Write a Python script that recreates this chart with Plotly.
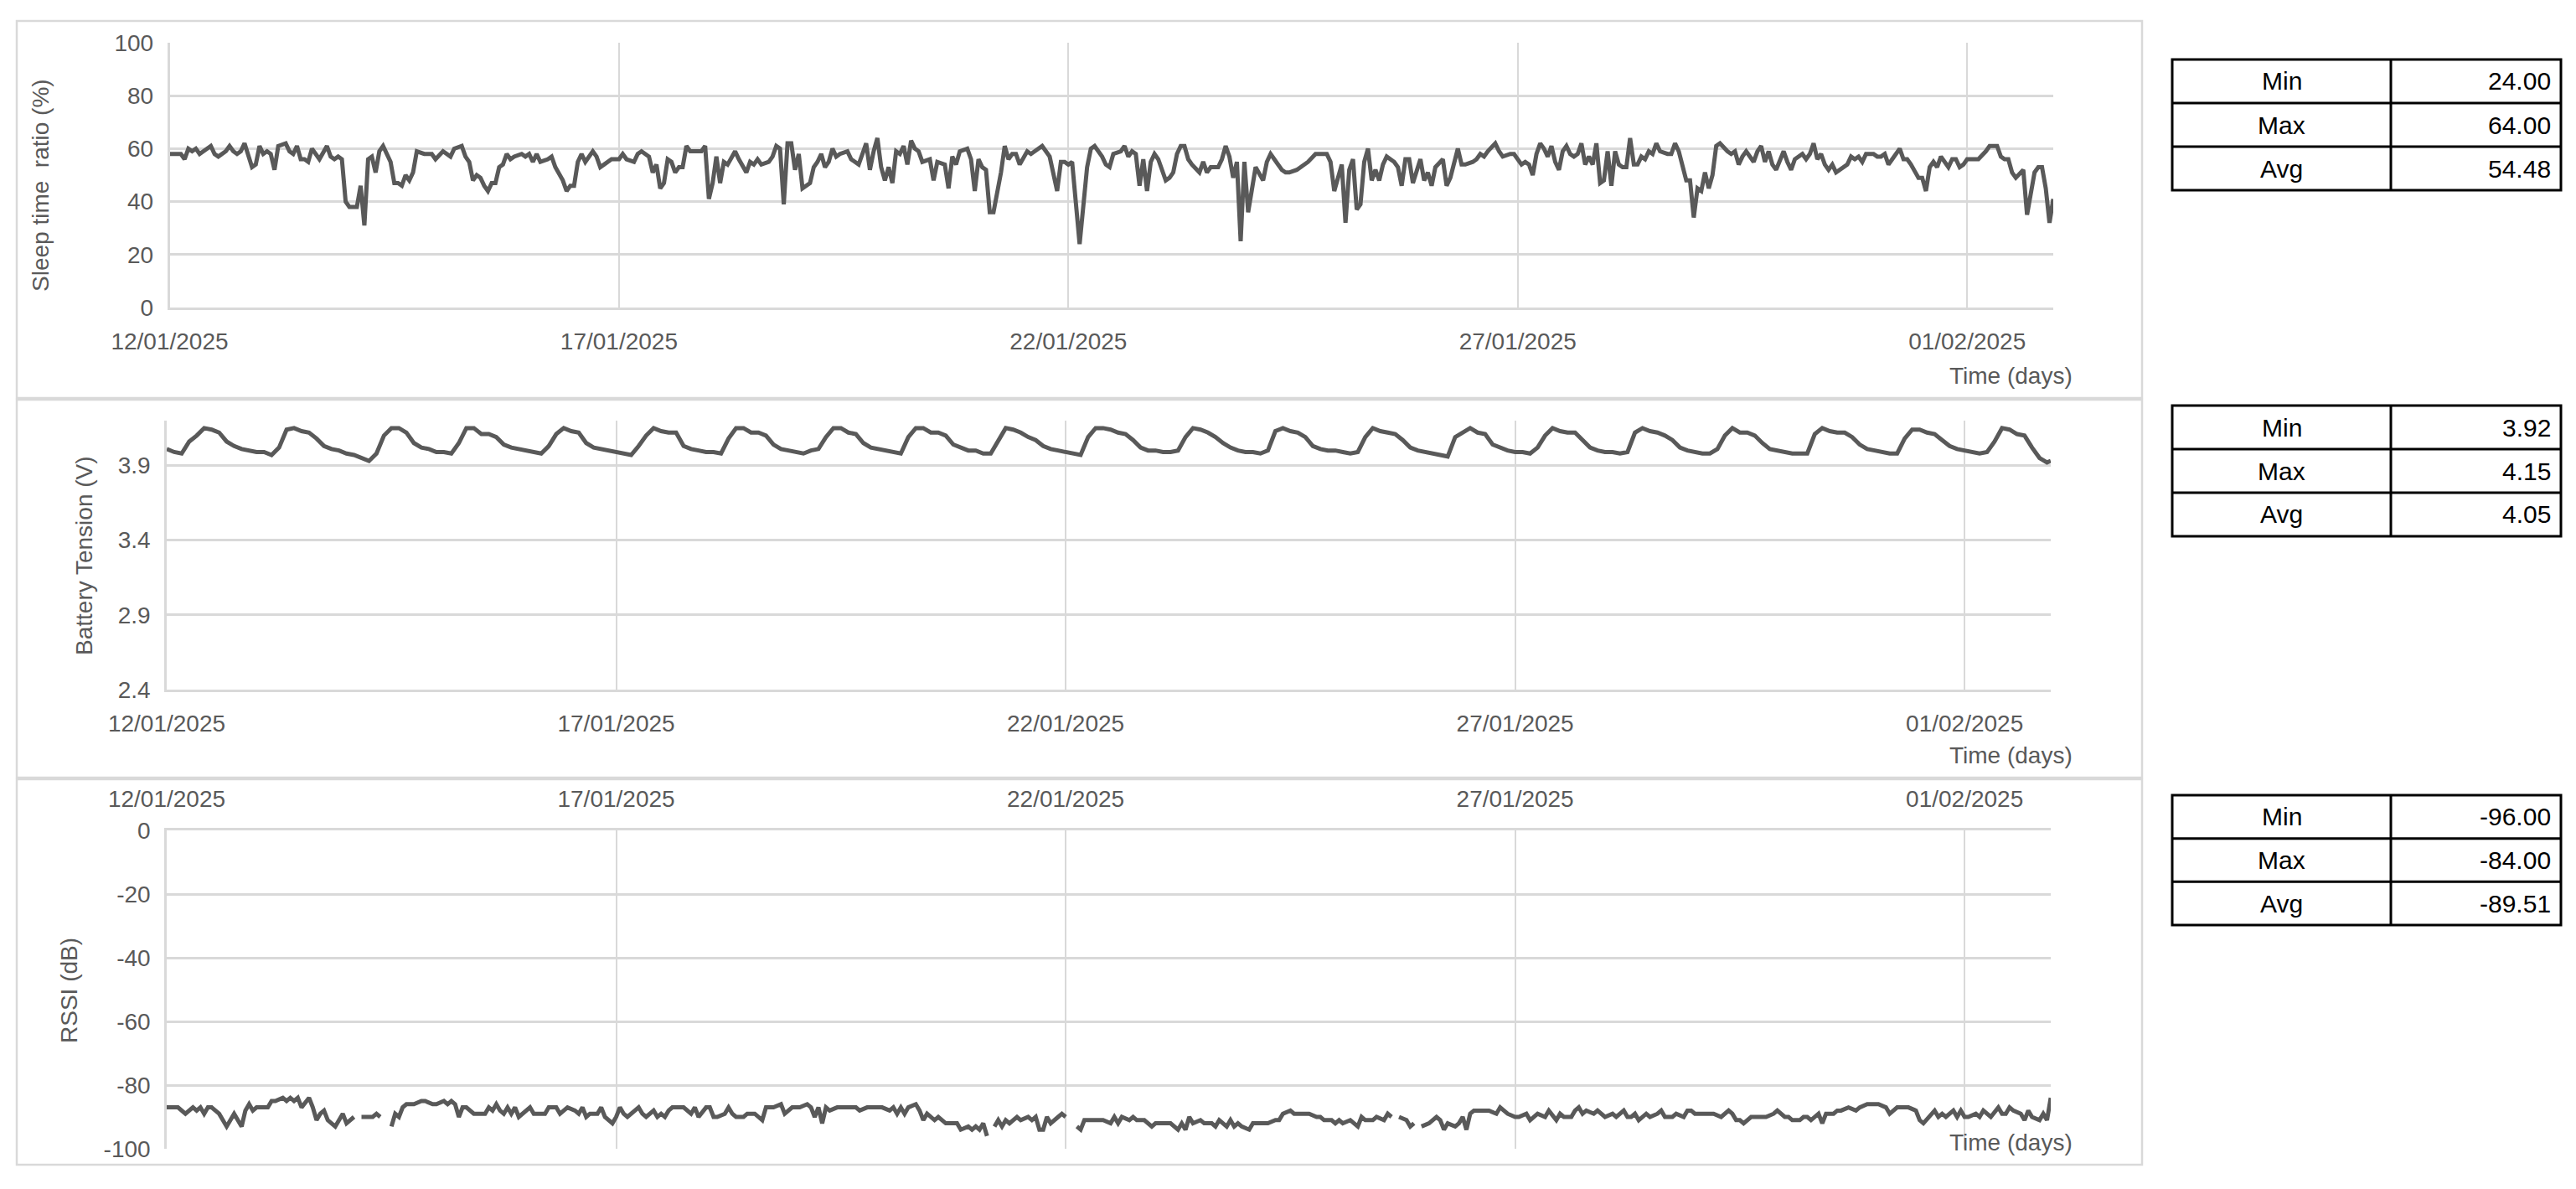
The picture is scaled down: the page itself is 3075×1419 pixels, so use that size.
import plotly.graph_objects as go
from datetime import datetime, timedelta

W, H = 3075, 1419

# ---------------- data ----------------
start_date = "2025-01-12 00:00"
end_date = "2025-02-01 23:00"
tick_start = "2025-01-12"
tick_step_days = 5
date_format = "%d/%m/%Y"

# (hours since 12/01/2025 00:00, sleep time ratio %)
sleep_readings = [
    (0, 58), (3, 58), (4, 56), (5, 60), (6, 59), (7, 60), (8, 58), (10, 60), (11, 61), (12, 58),
    (13, 57), (15, 59), (16, 61), (17, 59), (18, 58), (19, 59), (20, 62), (22, 53), (23, 54), (24, 61),
    (25, 58), (26, 59), (27, 58), (28, 52), (29, 61), (31, 62), (32, 59), (33, 58), (34, 61), (35, 56),
    (36, 56), (37, 55), (38, 60), (40, 56), (42, 61), (43, 57), (44, 56), (45, 57), (46, 56), (47, 40),
    (48, 38), (50, 38), (51, 46), (52, 31), (53, 56), (54, 57), (55, 51), (56, 59), (57, 61), (59, 55),
    (60, 47), (61, 47), (62, 46), (63, 50), (64, 48), (65, 51), (66, 59), (68, 58), (69, 58), (70, 58),
    (71, 56), (73, 59), (75, 57), (76, 60), (78, 61), (79, 57), (80, 55), (81, 48), (82, 50), (83, 49),
    (84, 46), (85, 44), (86, 47), (87, 47), (88, 53), (89, 54), (90, 58), (91, 56), (92, 57), (94, 58),
    (95, 57), (96, 58), (97, 55), (98, 58), (99, 55), (101, 56), (102, 57), (103, 53), (105, 48), (106, 44),
    (107, 46), (108, 46), (109, 55), (110, 58), (111, 55), (113, 59), (114, 57), (115, 53), (116, 54), (118, 56),
    (119, 56), (120, 56), (121, 58), (122, 56), (124, 55), (125, 58), (126, 59), (128, 57), (129, 51), (130, 54),
    (131, 45), (132, 47), (133, 56), (134, 55), (135, 51), (136, 53), (137, 53), (138, 61), (139, 59), (140, 59),
    (142, 59), (143, 61), (144, 41), (145, 47), (146, 57), (147, 47), (148, 55), (149, 54), (151, 59), (152, 56),
    (154, 51), (155, 55), (156, 54), (157, 56), (158, 54), (160, 55), (161, 57), (162, 61), (163, 60), (164, 39),
    (165, 62), (166, 62), (167, 52), (168, 58), (169, 45), (171, 47), (172, 53), (173, 55), (174, 58), (175, 53),
    (176, 55), (177, 60), (178, 57), (179, 58), (181, 59), (182, 56), (184, 54), (185, 58), (186, 62), (187, 52),
    (188, 59), (189, 64), (190, 53), (191, 48), (192, 53), (193, 47), (194, 59), (195, 58), (196, 61), (197, 54),
    (198, 63), (199, 60), (200, 59), (201, 55), (203, 56), (204, 48), (205, 55), (207, 54), (208, 45), (209, 57),
    (210, 54), (211, 59), (213, 60), (214, 56), (215, 44), (216, 56), (217, 53), (218, 52), (219, 36), (220, 36),
    (222, 51), (223, 61), (224, 56), (225, 58), (226, 58), (227, 54), (229, 59), (230, 58), (231, 59), (233, 61),
    (234, 59), (235, 57), (237, 44), (238, 55), (239, 55), (240, 54), (241, 55), (243, 24), (245, 53), (246, 60),
    (247, 61), (249, 57), (250, 54), (251, 53), (252, 58), (254, 59), (255, 61), (256, 57), (257, 59), (258, 58),
    (259, 46), (260, 56), (261, 44), (262, 55), (263, 58), (264, 56), (266, 48), (267, 49), (268, 51), (269, 58),
    (270, 61), (271, 61), (272, 56), (273, 54), (275, 51), (276, 55), (277, 51), (278, 53), (280, 53), (281, 56),
    (282, 61), (283, 57), (284, 49), (285, 55), (286, 25), (287, 55), (288, 36), (289, 45), (290, 53), (292, 48),
    (293, 55), (294, 58), (295, 56), (297, 52), (298, 51), (299, 51), (301, 52), (303, 54), (304, 55), (306, 58),
    (307, 58), (309, 58), (310, 55), (311, 44), (313, 54), (314, 32), (315, 52), (316, 56), (317, 37), (318, 39),
    (319, 55), (320, 60), (321, 48), (322, 52), (323, 48), (324, 54), (325, 57), (327, 55), (328, 53), (329, 46),
    (330, 56), (331, 56), (332, 47), (333, 52), (334, 56), (335, 48), (336, 51), (337, 46), (338, 53), (340, 56),
    (341, 46), (342, 49), (343, 54), (344, 60), (345, 54), (346, 54), (348, 55), (349, 56), (350, 58), (351, 57),
    (352, 59), (354, 62), (355, 59), (356, 57), (358, 58), (359, 58), (361, 54), (362, 55), (363, 54), (364, 50),
    (365, 58), (366, 62), (367, 60), (368, 57), (369, 61), (370, 55), (371, 52), (372, 59), (373, 61), (374, 58),
    (375, 57), (376, 58), (377, 62), (378, 54), (379, 57), (380, 54), (381, 62), (382, 47), (383, 48), (384, 59),
    (385, 46), (386, 59), (387, 54), (388, 53), (389, 53), (390, 64), (391, 54), (392, 54), (393, 57), (394, 56),
    (395, 59), (396, 58), (397, 62), (398, 59), (400, 58), (401, 58), (402, 62), (403, 59), (405, 48), (406, 48),
    (407, 34), (408, 45), (409, 44), (410, 51), (411, 45), (412, 50), (413, 61), (414, 62), (416, 59), (417, 58),
    (418, 59), (419, 54), (420, 57), (421, 59), (423, 55), (424, 59), (425, 61), (426, 55), (427, 59), (428, 54),
    (429, 52), (431, 59), (432, 55), (433, 52), (434, 56), (436, 58), (437, 56), (438, 58), (439, 62), (440, 56),
    (441, 58), (442, 54), (443, 52), (444, 54), (445, 51), (447, 53), (448, 54), (449, 57), (450, 56), (451, 57),
    (452, 55), (453, 58), (455, 58), (456, 57), (457, 57), (458, 58), (459, 54), (460, 56), (462, 60), (463, 56),
    (464, 56), (465, 54), (467, 49), (468, 49), (469, 44), (470, 53), (471, 55), (472, 53), (473, 57), (475, 53),
    (476, 56), (477, 56), (478, 53), (479, 54), (480, 56), (482, 56), (483, 56), (485, 59), (486, 61), (488, 61),
    (489, 57), (490, 56), (491, 56), (492, 51), (493, 49), (495, 52), (496, 35), (497, 43), (498, 51), (499, 53),
    (500, 53), (501, 45), (502, 32), (503, 41),
]

# battery tension (V), read every 2 hours, last reading at hour 503
battery_hours = list(range(0, 503, 2)) + [503]
battery_values = [
    4.01, 3.99, 3.98, 4.06, 4.10, 4.15, 4.14, 4.12, 4.06, 4.03,
    4.01, 4.00, 3.99, 3.99, 3.97, 4.02, 4.14, 4.15, 4.13, 4.12,
    4.08, 4.03, 4.01, 4.00, 3.98, 3.97, 3.95, 3.93, 3.98, 4.10,
    4.15, 4.15, 4.12, 4.05, 4.02, 4.01, 3.99, 3.99, 3.98, 4.05,
    4.15, 4.15, 4.11, 4.11, 4.09, 4.04, 4.02, 4.01, 4.00, 3.99,
    3.98, 4.03, 4.11, 4.15, 4.13, 4.12, 4.05, 4.02, 4.01, 4.00,
    3.99, 3.98, 3.97, 4.03, 4.10, 4.15, 4.13, 4.12, 4.12, 4.03,
    4.01, 4.00, 3.99, 3.99, 3.98, 4.08, 4.15, 4.15, 4.12, 4.12,
    4.10, 4.04, 4.01, 4.00, 3.99, 3.98, 4.00, 4.01, 4.09, 4.15,
    4.15, 4.12, 4.11, 4.05, 4.02, 4.01, 4.00, 3.99, 3.98, 4.09,
    4.15, 4.15, 4.12, 4.12, 4.10, 4.04, 4.02, 4.00, 4.00, 3.98,
    3.98, 4.07, 4.15, 4.14, 4.12, 4.09, 4.07, 4.03, 4.01, 4.00,
    3.99, 3.98, 3.97, 4.09, 4.15, 4.15,
    4.14, 4.12, 4.11, 4.07, 4.02, 4.00, 4.00, 3.99, 3.99, 4.00,
    4.09, 4.15, 4.14, 4.12, 4.09, 4.05, 4.02, 4.00, 3.99, 3.99,
    3.98, 4.00, 4.13, 4.15, 4.13, 4.12, 4.09, 4.03, 4.01, 4.00,
    4.00, 3.99, 3.98, 3.99, 4.09, 4.15, 4.13, 4.12, 4.11, 4.07,
    4.02, 4.00, 3.99, 3.98, 3.97, 3.96, 4.09, 4.12, 4.15, 4.12,
    4.11, 4.04, 4.02, 4.00, 3.99, 3.99, 3.98, 4.02, 4.10, 4.15,
    4.13, 4.12, 4.12, 4.07, 4.02, 4.00, 3.99, 3.99, 3.98, 3.99,
    4.12, 4.15, 4.13, 4.12, 4.10, 4.07, 4.02, 4.00, 3.99, 3.98,
    3.98, 4.01, 4.10, 4.15, 4.12, 4.12, 4.10, 4.05, 4.01, 4.00,
    3.99, 3.98, 3.98, 3.98, 4.11, 4.15, 4.13, 4.12, 4.12, 4.09,
    4.04, 4.01, 4.00, 3.99, 3.98, 3.98, 4.08, 4.14, 4.14, 4.12,
    4.11, 4.07, 4.03, 4.01, 4.00, 3.99, 3.98, 3.99, 4.06, 4.15,
    4.14, 4.11, 4.10, 4.02, 3.95, 3.92, 3.93,
]

# (hours since 12/01/2025 00:00, RSSI dB); None = missing reading (gap in line)
rssi_readings = [
    (0, -87), (1, -87), (2, -87), (3, -87), (5, -89), (6, -88), (7, -87), (8, -88), (9, -87), (10, -89),
    (11, -87), (12, -87), (14, -89), (16, -93), (17, -91), (18, -89), (20, -93), (21, -88), (22, -86), (23, -88),
    (24, -87), (26, -87), (27, -87), (28, -85), (29, -85), (31, -84), (32, -85), (33, -84), (34, -85), (35, -84),
    (36, -87), (38, -84), (39, -87), (40, -91), (41, -89), (42, -88), (43, -91), (44, -92), (45, -93), (47, -89),
    (48, -92), (50, -90), (51, None), (52, -90), (53, -90), (55, -90), (56, -89), (57, -90), (58, None), (60, -93),
    (61, -89), (62, -90), (63, -87), (64, -86), (66, -86), (68, -85), (69, -85), (71, -86), (72, -86), (74, -85),
    (75, -86), (76, -85), (77, -86), (78, -90), (79, -87), (80, -87), (82, -89), (84, -89), (85, -89), (86, -87),
    (87, -88), (88, -86), (89, -88), (90, -89), (91, -87), (92, -89), (93, -87), (94, -90), (96, -88), (97, -87),
    (98, -89), (100, -89), (101, -89), (102, -87), (104, -87), (105, -89), (107, -87), (109, -88), (110, -89), (111, -87),
    (112, -90), (113, -89), (115, -89), (116, -87), (117, -90), (119, -92), (120, -90), (121, -87), (122, -89), (123, -90),
    (126, -87), (127, -89), (128, -90), (130, -88), (131, -90), (132, -89), (133, -90), (134, -88), (135, -87), (137, -87),
    (138, -87), (140, -89), (141, -87), (142, -90), (144, -87), (145, -87), (146, -90), (147, -90), (149, -89), (150, -87),
    (151, -89), (152, -90), (154, -90), (155, -89), (157, -89), (159, -91), (160, -87), (161, -87), (162, -87), (164, -86),
    (165, -89), (167, -87), (168, -87), (169, -87), (171, -86), (172, -87), (173, -90), (174, -87), (175, -92), (176, -87),
    (177, -88), (179, -87), (180, -87), (181, -87), (184, -87), (185, -88), (187, -87), (189, -87), (191, -87), (193, -88),
    (194, -87), (195, -89), (196, -87), (197, -89), (198, -87), (200, -86), (201, -88), (202, -91), (203, -89), (205, -91),
    (206, -90), (208, -92), (209, -92), (211, -92), (212, -94), (214, -93), (215, -94), (216, -93), (217, -94), (218, -92),
    (219, -96), (220, None), (221, -93), (222, -91), (223, -93), (224, -91), (225, -92), (227, -90), (228, -91), (230, -90),
    (231, -91), (232, -90), (233, -94), (234, -94), (235, -90), (236, -92), (238, -90), (239, -89), (240, -90), (241, None),
    (243, -93), (244, -94), (245, -91), (247, -91), (249, -91), (250, -91), (252, -92), (253, -90), (254, -92), (255, -90),
    (257, -91), (258, -90), (259, -91), (260, -91), (261, -91), (263, -93), (264, -92), (266, -92), (268, -92), (270, -94),
    (271, -92), (272, -94), (273, -90), (274, -92), (276, -91), (277, -92), (279, -92), (280, -93), (281, -91), (283, -93),
    (284, -91), (285, -93), (286, -92), (287, -93), (289, -94), (290, -92), (293, -92), (294, -92), (296, -91), (297, -91),
    (298, -89), (300, -88), (301, -89), (303, -89), (305, -89), (307, -90), (308, -90), (309, -91), (311, -91), (312, -92),
    (313, -91), (314, -92), (316, -91), (317, -92), (318, -93), (319, -90), (320, -91), (322, -91), (323, -90), (325, -91),
    (326, -89), (327, -90), (328, None), (329, -90), (331, -91), (332, -93), (333, -92), (334, None), (335, -93), (337, -92),
    (339, -90), (340, -91), (341, -94), (342, -92), (344, -93), (345, -92), (346, -90), (347, -94), (348, -89), (349, -88),
    (351, -88), (353, -88), (355, -89), (356, -87), (358, -89), (360, -90), (361, -90), (363, -89), (364, -91), (366, -89),
    (368, -90), (369, -88), (371, -91), (372, -89), (373, -90), (375, -90), (376, -88), (377, -87), (378, -89), (379, -88),
    (381, -89), (382, -88), (384, -90), (386, -89), (387, -90), (389, -88), (390, -90), (391, -90), (392, -89), (393, -91),
    (395, -89), (396, -90), (398, -89), (399, -88), (400, -90), (402, -90), (403, -89), (405, -90), (406, -88), (407, -88),
    (408, -89), (410, -89), (412, -89), (413, -89), (415, -90), (417, -88), (418, -89), (419, -91), (420, -91), (421, -92),
    (423, -90), (424, -90), (425, -90), (427, -90), (429, -89), (430, -88), (432, -90), (433, -90), (434, -91), (436, -91),
    (437, -90), (438, -90), (439, -91), (441, -89), (442, -92), (443, -89), (445, -89), (446, -88), (447, -88), (449, -87),
    (451, -88), (452, -87), (454, -86), (456, -86), (457, -86), (459, -87), (460, -89), (461, -88), (462, -87), (464, -87),
    (465, -87), (467, -88), (468, -91), (469, -92), (471, -89), (472, -88), (473, -90), (474, -89), (475, -90), (477, -88),
    (478, -90), (479, -88), (480, -90), (481, -90), (483, -89), (484, -90), (485, -88), (486, -89), (487, -90), (489, -87),
    (490, -89), (491, -89), (492, -87), (493, -88), (495, -89), (496, -91), (497, -88), (498, -90), (500, -91), (501, -89),
    (502, -91), (503, -84),
]

sleep_ticks = [0, 20, 40, 60, 80, 100]
battery_ticks = [2.4, 2.9, 3.4, 3.9]
rssi_ticks = [-100, -80, -60, -40, -20, 0]

y_titles = ["Sleep time\u00a0 ratio (%)", "Battery Tension (V)", "RSSI (dB)"]
x_title = "Time (days)"

stat_labels = ["Min", "Max", "Avg"]
sleep_stats = ["24.00", "64.00", "54.48"]
battery_stats = ["3.92", "4.15", "4.05"]
rssi_stats = ["-96.00", "-84.00", "-89.51"]

# ---------------- helpers ----------------
base = datetime(2025, 1, 12)


def to_times(hours):
    return [base + timedelta(hours=h) for h in hours]


def px(x):
    return x / W


def py(y):
    return 1 - y / H


LINE_COLOR = "#595959"
GRID = "#d9d9d9"
TXT = "#595959"
FONT = "Liberation Sans, Arial, sans-serif"

fig = go.Figure()

sh = [h for h, _ in sleep_readings]
sv = [v for _, v in sleep_readings]
rh = [h for h, _ in rssi_readings]
rv = [v for _, v in rssi_readings]

line = dict(color=LINE_COLOR, width=5)
fig.add_trace(go.Scatter(x=to_times(sh), y=sv, mode="lines", line=line,
                         xaxis="x", yaxis="y", hoverinfo="skip"))
fig.add_trace(go.Scatter(x=to_times(battery_hours), y=battery_values, mode="lines", line=line,
                         xaxis="x2", yaxis="y2", hoverinfo="skip"))
fig.add_trace(go.Scatter(x=to_times(rh), y=rv, mode="lines", line=line, connectgaps=False,
                         xaxis="x3", yaxis="y3", hoverinfo="skip"))

tickfont = dict(family=FONT, size=28, color=TXT)


def xaxis(domain, anchor, side="bottom", standoff=14):
    return dict(domain=domain, anchor=anchor, type="date", range=[start_date, end_date],
                tick0=tick_start, dtick=tick_step_days * 86400000, tickformat=date_format,
                showgrid=True, gridcolor=GRID, gridwidth=2,
                showline=True, linecolor=GRID, linewidth=2.5, zeroline=False,
                ticks="", tickfont=tickfont, side=side, ticklabelstandoff=standoff,
                automargin=False, fixedrange=True)


def yaxis(domain, anchor, rng, ticks, fmt):
    return dict(domain=domain, anchor=anchor, range=rng, tickmode="array",
                tickvals=ticks, ticktext=[fmt(t) for t in ticks],
                showgrid=True, gridcolor=GRID, gridwidth=2.5,
                showline=True, linecolor=GRID, linewidth=2.5, zeroline=False,
                ticks="", tickfont=tickfont, ticklabelstandoff=11,
                automargin=False, fixedrange=True)


x1_dom = [px(202.5), px(2451)]
x23_dom = [px(199), px(2448)]

fig.update_layout(
    width=W, height=H, autosize=False,
    margin=dict(l=0, r=0, t=0, b=0, pad=0, autoexpand=False),
    paper_bgcolor="white", plot_bgcolor="white",
    showlegend=False,
    xaxis=xaxis(x1_dom, "y"),
    yaxis=yaxis([py(367), py(51)], "x", [0, 100], sleep_ticks, lambda t: f"{t:d}"),
    xaxis2=xaxis(x23_dom, "y2"),
    yaxis2=yaxis([py(823), py(502)], "x2", [2.4, 4.2], battery_ticks, lambda t: f"{t:.1f}"),
    xaxis3=xaxis(x23_dom, "y3", side="top"),
    yaxis3=yaxis([py(1371), py(991)], "x3", [-100, 0], rssi_ticks, lambda t: f"{t:d}"),
)

shapes = []
annotations = []

# chart area borders
for top, bottom in [(25, 475), (477, 928), (930, 1390)]:
    shapes.append(dict(type="rect", xref="paper", yref="paper",
                       x0=px(20), x1=px(2557), y0=py(bottom), y1=py(top),
                       line=dict(color=GRID, width=2.5), fillcolor="rgba(0,0,0,0)", layer="below"))

# axis titles
title_font = dict(family=FONT, size=28, color=TXT)
for text, (cx, cy) in zip(y_titles, [(48, 221), (100, 663), (82, 1182)]):
    annotations.append(dict(text=text, x=px(cx), y=py(cy), xref="paper", yref="paper",
                            textangle=-90, showarrow=False, font=title_font,
                            xanchor="center", yanchor="middle"))
for cy in [448, 901, 1363]:
    annotations.append(dict(text=x_title, x=px(2400), y=py(cy), xref="paper", yref="paper",
                            showarrow=False, font=title_font, xanchor="center", yanchor="middle"))

# stats tables
table_font = dict(family=FONT, size=30, color="black")
tx0, tx1, tx2 = 2593, 2854, 3057
for (top, bottom), stats in zip([(71, 227), (484, 640), (949, 1104)],
                                [sleep_stats, battery_stats, rssi_stats]):
    rh_ = (bottom - top) / 3
    shapes.append(dict(type="rect", xref="paper", yref="paper",
                       x0=px(tx0), x1=px(tx2), y0=py(bottom), y1=py(top),
                       line=dict(color="black", width=3)))
    shapes.append(dict(type="line", xref="paper", yref="paper",
                       x0=px(tx1), x1=px(tx1), y0=py(bottom), y1=py(top),
                       line=dict(color="black", width=3)))
    for i in (1, 2):
        yy = top + rh_ * i
        shapes.append(dict(type="line", xref="paper", yref="paper",
                           x0=px(tx0), x1=px(tx2), y0=py(yy), y1=py(yy),
                           line=dict(color="black", width=3)))
    for i, (lab, val) in enumerate(zip(stat_labels, stats)):
        cy = top + rh_ * (i + 0.5)
        annotations.append(dict(text=lab, x=px((tx0 + tx1) / 2), y=py(cy), xref="paper", yref="paper",
                                showarrow=False, font=table_font, xanchor="center", yanchor="middle"))
        annotations.append(dict(text=val, x=px(tx2 - 10), y=py(cy), xref="paper", yref="paper",
                                showarrow=False, font=table_font, xanchor="right", yanchor="middle"))

fig.update_layout(shapes=shapes, annotations=annotations)

fig.write_html(
    "out.html",
    config={"responsive": False, "displayModeBar": False},
    post_script="document.body.style.margin='0px'; document.body.style.overflow='hidden';",
)
